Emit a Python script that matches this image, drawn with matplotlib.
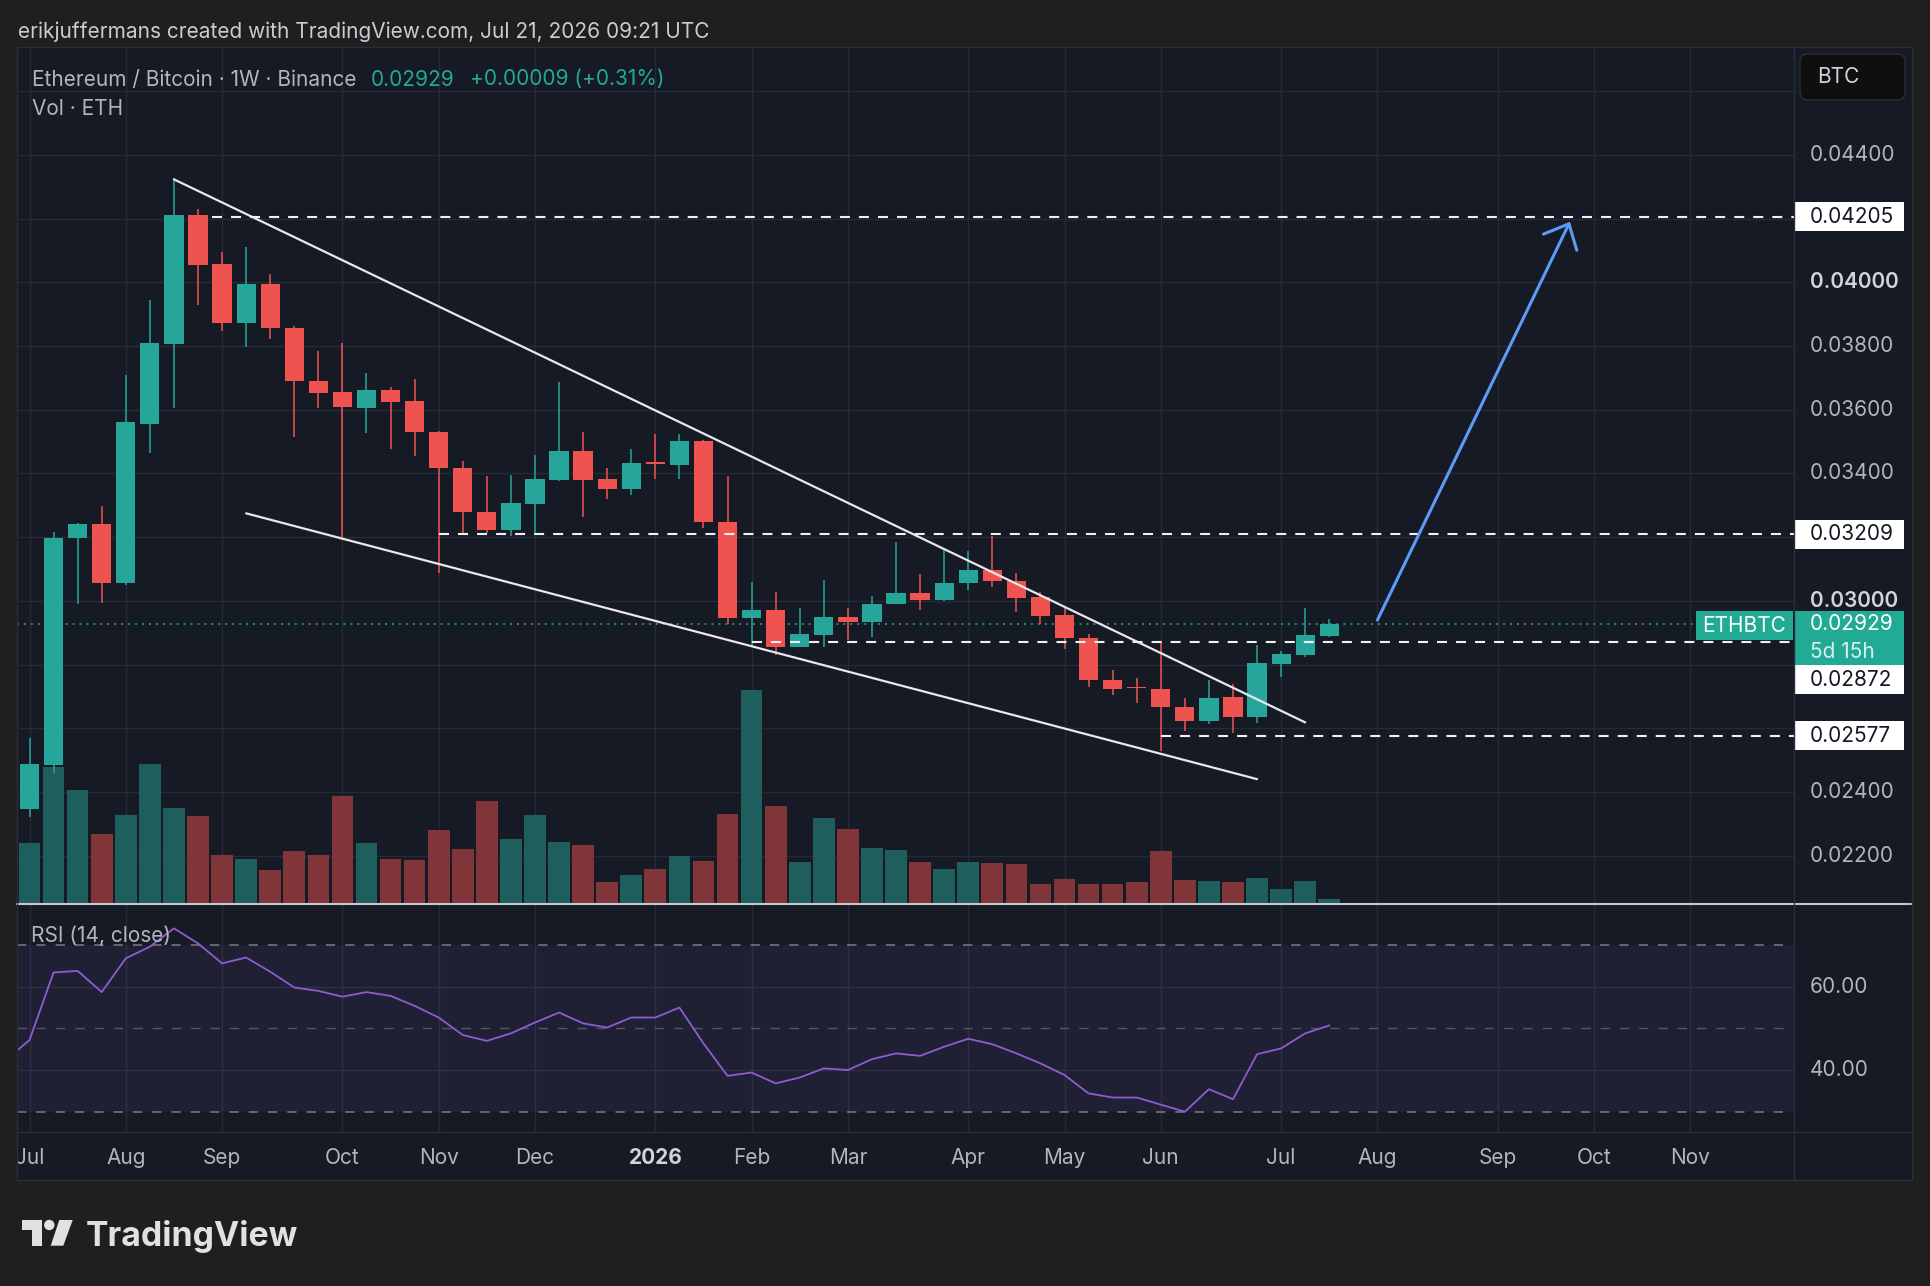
import matplotlib
matplotlib.use("Agg")
import matplotlib.pyplot as plt
import matplotlib.transforms as mtransforms
from matplotlib.patches import Rectangle, FancyBboxPatch, Circle, Polygon
from matplotlib.lines import Line2D
import numpy as np
import pandas as pd

plt.rcParams['font.family'] = ['Inter', 'DejaVu Sans']
plt.rcParams['lines.scale_dashes'] = False

# ETH/BTC weekly candles (Binance), first bar = week of 2025-07-07
open_ = [0.02346, 0.02485, 0.03197, 0.03240, 0.03055, 0.03556, 0.03805, 0.04211, 0.04057, 0.03871,
         0.03994, 0.03855, 0.03690, 0.03655, 0.03607, 0.03663, 0.03627, 0.03531, 0.03418, 0.03280,
         0.03222, 0.03304, 0.03380, 0.03471, 0.03382, 0.03351, 0.03434, 0.03428, 0.03501, 0.03247,
         0.02948, 0.02972, 0.02856, 0.02893, 0.02950, 0.02935, 0.02990, 0.03026, 0.03002, 0.03055,
         0.03097, 0.03064, 0.03012, 0.02955, 0.02885, 0.02751, 0.02729, 0.02723, 0.02668, 0.02624,
         0.02700, 0.02636, 0.02803, 0.02830, 0.02890]
high = [0.02571, 0.03217, 0.03246, 0.03298, 0.03709, 0.03944, 0.04326, 0.04230, 0.04096, 0.04111,
        0.04027, 0.03863, 0.03784, 0.03811, 0.03714, 0.03670, 0.03697, 0.03533, 0.03439, 0.03392,
        0.03395, 0.03458, 0.03686, 0.03529, 0.03416, 0.03478, 0.03523, 0.03525, 0.03506, 0.03392,
        0.03059, 0.03028, 0.02978, 0.03067, 0.02979, 0.03015, 0.03184, 0.03085, 0.03159, 0.03157,
        0.03204, 0.03087, 0.03028, 0.02979, 0.02895, 0.02783, 0.02759, 0.02873, 0.02696, 0.02753,
        0.02740, 0.02862, 0.02844, 0.02979, 0.02945]
low = [0.02321, 0.02461, 0.02991, 0.02993, 0.03050, 0.03465, 0.03607, 0.03929, 0.03848, 0.03798,
       0.03821, 0.03513, 0.03607, 0.03191, 0.03526, 0.03476, 0.03456, 0.03087, 0.03209, 0.03212,
       0.03205, 0.03212, 0.03378, 0.03262, 0.03320, 0.03331, 0.03382, 0.03382, 0.03230, 0.02929,
       0.02857, 0.02829, 0.02855, 0.02856, 0.02876, 0.02888, 0.02989, 0.02973, 0.03001, 0.03036,
       0.03045, 0.02964, 0.02929, 0.02850, 0.02730, 0.02705, 0.02679, 0.02529, 0.02593, 0.02614,
       0.02586, 0.02617, 0.02761, 0.02824, 0.02887]
close = [0.02489, 0.03199, 0.03240, 0.03055, 0.03562, 0.03811, 0.04211, 0.04055, 0.03871, 0.03994,
         0.03855, 0.03690, 0.03654, 0.03610, 0.03663, 0.03625, 0.03529, 0.03416, 0.03280, 0.03222,
         0.03306, 0.03382, 0.03471, 0.03380, 0.03350, 0.03432, 0.03430, 0.03501, 0.03247, 0.02948,
         0.02972, 0.02856, 0.02895, 0.02950, 0.02935, 0.02991, 0.03026, 0.03002, 0.03056, 0.03097,
         0.03062, 0.03010, 0.02953, 0.02883, 0.02751, 0.02724, 0.02726, 0.02667, 0.02624, 0.02696,
         0.02636, 0.02805, 0.02833, 0.02892, 0.02929]
# volume, relative units
volume = [59.7, 135.7, 113.4, 68.7, 87.7, 139.4, 94.7, 87.0, 48.4, 44.0,
          32.7, 51.7, 48.4, 107.4, 59.7, 44.0, 43.0, 72.7, 53.7, 101.7,
          64.0, 87.7, 60.7, 58.0, 21.4, 28.4, 33.7, 46.7, 42.2, 88.7,
          213.4, 96.7, 40.7, 85.4, 73.7, 55.4, 52.7, 41.4, 34.4, 40.7,
          39.7, 38.7, 18.7, 23.7, 18.7, 18.7, 21.4, 51.7, 23.0, 22.0,
          21.4, 24.7, 14.4, 22.4, 3.7]
# RSI(14, close), starts one week before the first candle
rsi = [42.3, 47.2, 63.4, 63.8, 58.7, 66.8, 69.6, 74.0, 70.4, 65.6, 67.0,
       63.6, 59.8, 59.0, 57.6, 58.7, 57.8, 55.4, 52.6, 48.4, 47.0,
       48.8, 51.4, 53.8, 51.2, 50.2, 52.6, 52.6, 55.0, 46.4, 38.6,
       39.4, 36.8, 38.2, 40.4, 40.0, 42.6, 44.0, 43.4, 45.6, 47.5,
       46.2, 44.0, 41.6, 38.8, 34.4, 33.4, 33.4, 31.7, 30.0, 35.4,
       33.0, 43.8, 45.2, 48.8, 50.7]

first_week = pd.Timestamp("2025-07-07")
month_starts = pd.date_range("2025-07-01", "2026-11-01", freq="MS")
month_labels = ["Jul", "Aug", "Sep", "Oct", "Nov", "Dec", "2026", "Feb", "Mar", "Apr",
                "May", "Jun", "Jul", "Aug", "Sep", "Oct", "Nov"]

price_ticks = [0.044, 0.040, 0.038, 0.036, 0.034, 0.030, 0.024, 0.022]
grid_prices = [0.022, 0.024, 0.026, 0.028, 0.030, 0.032, 0.034, 0.036, 0.038, 0.040, 0.042, 0.044, 0.046]
levels = [0.04205, 0.03209, 0.02872, 0.02577]
level_start = [7.6, 17, 30, 47]
last_price = 0.02929
upper_line = ([6, 53], [0.04323, 0.02619])
lower_line = ([9, 51], [0.03275, 0.02441])
arrow_from = (56, 0.02940)
arrow_to = (64, 0.04190)

# colours
OUTER = "#1f1f1f"
BG = "#161a25"
GRID = "#262a36"
BORDER = "#2a2e39"
TXT = "#b2b5be"
BULL = "#26a69a"
BEAR = "#ef5350"
VBULL = "#1e5e5c"
VBEAR = "#803539"
TEAL = "#22ab94"
BLUE = "#5b9cf6"

W, H = 1930, 1286
L, R, RR = 17.3, 1794, 1912
TOP, SEP, RSI_BOT, BOT = 47, 903, 1131.7, 1180

fig = plt.figure(figsize=(W / 100, H / 100), dpi=100, facecolor=OUTER)
pix = mtransforms.Affine2D().scale(1 / W, -1 / H).translate(0, 1) + fig.transFigure


def hide_ticks(a):
    for s in a.spines.values():
        s.set_visible(False)
    a.tick_params(left=False, bottom=False, right=False, top=False, labelleft=False,
                  labelbottom=False, labelright=False, labeltop=False)


def add_ax(x0, y0, x1, y1):
    a = fig.add_axes([x0 / W, 1 - y1 / H, (x1 - x0) / W, (y1 - y0) / H])
    a.set_facecolor(BG)
    hide_ticks(a)
    return a


# bar <-> pixel layout of the screenshot
bar0_px, bar_px = 29.5, 24.07
xmin, xmax = (L - bar0_px) / bar_px, (R - bar0_px) / bar_px
ppp = 31870.0  # pixels per price unit
ymax = 0.044 + (154.8 - TOP) / ppp
ymin = 0.044 - (SEP - 154.8) / ppp

o, h, l, c = map(np.array, (open_, high, low, close))
x = np.arange(len(c))
up = c >= o
col = np.where(up, BULL, BEAR)
vcol = np.where(up, VBULL, VBEAR)

first_mon = [pd.offsets.Week(weekday=0).rollforward(d) for d in month_starts]
month_x = [(d - first_week).days / 7 for d in first_mon]

# ---- price pane ----
ax = add_ax(L, TOP, R, SEP)
ax_vol = ax.twinx()
hide_ticks(ax)
hide_ticks(ax_vol)
ax.set_zorder(2)
ax_vol.set_zorder(1)
ax.patch.set_visible(False)
ax_vol.patch.set_visible(True)
ax_vol.patch.set_facecolor(BG)

ax.set_xlim(xmin, xmax)
ax.set_ylim(ymin, ymax)
ax_vol.set_ylim(0, SEP - TOP)

gtr = mtransforms.blended_transform_factory(ax_vol.transAxes, ax.transData)
for gp in grid_prices:
    ax_vol.plot([0, 1], [gp, gp], color=GRID, lw=1, transform=gtr, zorder=0)
for xm in month_x:
    ax_vol.axvline(xm, color=GRID, lw=1, zorder=0)

ax_vol.bar(x, volume, width=0.9, color=vcol, linewidth=0, zorder=2)

ax.vlines(x, l, h, colors=col, lw=1.1, zorder=3)
body = np.maximum(np.abs(c - o), 0.00005)
ax.bar(x, body, bottom=np.minimum(o, c), width=0.8, color=col, linewidth=0, zorder=4)

# drawings
ax.plot(*upper_line, color="#e6e8ee", lw=1.6, zorder=5, solid_capstyle="round")
ax.plot(*lower_line, color="#e6e8ee", lw=1.6, zorder=5, solid_capstyle="round")
for lv, st in zip(levels, level_start):
    ax.hlines(lv, st, xmax, colors="#f0f0f0", lw=1.5, linestyles=(0, (7.2, 6.5)), zorder=5)
ax.annotate("", xy=arrow_to, xytext=arrow_from,
            arrowprops=dict(arrowstyle="->,head_length=1.47,head_width=1.33", color=BLUE,
                            lw=2.2, shrinkA=0, shrinkB=0, mutation_scale=10), zorder=6)

bx = mtransforms.blended_transform_factory(pix, ax.transData)
fig.add_artist(Line2D([L, 1696], [last_price, last_price], transform=bx, color=TEAL,
                      lw=1.1, linestyle=(0, (1.4, 3.6))))

# legend text
fig.text(18, 32, "erikjuffermans created with TradingView.com, Jul 21, 2026 09:21 UTC",
         transform=pix, color="#c9ccd4", fontsize=15, va="center", ha="left")
fig.text(32, 79.5, "Ethereum / Bitcoin · 1W · Binance", transform=pix, color=TXT,
         fontsize=15, va="center", ha="left", zorder=10)
fig.text(371, 79.5, "0.02929", transform=pix, color=TEAL, fontsize=15, va="center", ha="left", zorder=10)
fig.text(470, 79.5, "+0.00009 (+0.31%)", transform=pix, color=TEAL, fontsize=15,
         va="center", ha="left", zorder=10)
fig.text(32, 109, "Vol · ETH", transform=pix, color=TXT, fontsize=15, va="center", ha="left", zorder=10)

# ---- price axis strip ----
ax_p = add_ax(R, TOP, RR, SEP)
for p in price_ticks:
    bold = p in (0.040, 0.030)
    fig.text(1810, p, f"{p:.5f}", transform=bx, color="#d1d4dc" if bold else TXT,
             fontsize=15, fontweight="semibold" if bold else "normal",
             va="center", ha="left", zorder=10)

cur_top = last_price + 12.6 / ppp
cur_bot = last_price - 41.4 / ppp
fig.add_artist(Rectangle((1795, cur_bot), 109, cur_top - cur_bot, transform=bx,
                         facecolor=TEAL, edgecolor="none", zorder=11))
fig.text(1810, last_price, f"{last_price:.5f}", transform=bx, color="white",
         fontsize=15, va="center", ha="left", zorder=12)
fig.text(1810, last_price - 28 / ppp, "5d 15h", transform=bx, color="#d8f0ec",
         fontsize=15, va="center", ha="left", zorder=12)
fig.add_artist(FancyBboxPatch((1696, cur_top - 29 / ppp), 97, 29 / ppp, transform=bx,
                              boxstyle="round,pad=0,rounding_size=0.00008",
                              facecolor=TEAL, edgecolor="none", zorder=11))
fig.text(1744.5, cur_top - 14.5 / ppp, "ETHBTC", transform=bx, color="white",
         fontsize=15, va="center", ha="center", zorder=12)

half = 14.5 / ppp
for lv in levels:
    cy = lv
    if cy + half > cur_bot and cy - half < cur_top:
        cy = cur_bot - half
    fig.add_artist(Rectangle((1795, cy - half), 109, 2 * half, transform=bx,
                             facecolor="white", edgecolor="none", zorder=11))
    fig.text(1810, cy, f"{lv:.5f}", transform=bx, color="#131722", fontsize=15,
             va="center", ha="left", zorder=12)

# BTC currency button
fig.add_artist(FancyBboxPatch((1800, 54), 105, 46, transform=pix,
                              boxstyle="round,pad=0,rounding_size=8",
                              facecolor="#0f0f0f", edgecolor="#2e2e2e", lw=1, zorder=11))
fig.text(1817, 77, "BTC", transform=pix, color="#d1d4dc", fontsize=15,
         va="center", ha="left", zorder=12)

# ---- RSI pane ----
rsi_top = 60 + (986.7 - (SEP + 2)) / 4.167
rsi_bot = 60 - (RSI_BOT - 986.7) / 4.167
ax_r = add_ax(L, SEP + 2, R, RSI_BOT)
ax_r.set_xlim(xmin, xmax)
ax_r.set_ylim(rsi_bot, rsi_top)
for xm in month_x:
    ax_r.axvline(xm, color=GRID, lw=1, zorder=0)
for gv in (40, 60):
    ax_r.axhline(gv, color=GRID, lw=1, zorder=0)
ax_r.axhspan(30, 70, color="#7e57c2", alpha=0.1, lw=0, zorder=1)
for lv in (70, 30):
    ax_r.axhline(lv, color="#787b86", lw=1.1, linestyle=(0, (6.7, 7.2)), zorder=2, xmax=0.994)
ax_r.axhline(50, color="#787b86", lw=1.0, alpha=0.6, linestyle=(0, (6.7, 7.2)), zorder=2, xmax=0.994)
ax_r.plot(np.arange(-1, len(rsi) - 1), rsi, color="#8e5cd0", lw=1.3, zorder=3)
fig.text(31, 936, "RSI (14, close)", transform=pix, color=TXT, fontsize=15,
         va="center", ha="left", zorder=10)

ax_rp = add_ax(R, SEP + 2, RR, RSI_BOT)
rbx = mtransforms.blended_transform_factory(pix, ax_r.transData)
for rv in (60, 40):
    fig.text(1810, rv, f"{rv:.2f}", transform=rbx, color=TXT, fontsize=15,
             va="center", ha="left", zorder=10)

# ---- time axis ----
ax_t = add_ax(L, RSI_BOT, R, BOT)
ax_t.set_xlim(xmin, xmax)
ax_t.set_ylim(0, 1)
for lab, xm in zip(month_labels, month_x):
    yr = lab.isdigit()
    ax_t.text(xm, 0.45, lab, ha="center", va="center", fontsize=15,
              color="#d1d4dc" if yr else TXT, fontweight="bold" if yr else "normal",
              clip_on=True)
ax_tc = add_ax(R, RSI_BOT, RR, BOT)

# separators and frame
fig.add_artist(Line2D([L, RR], [SEP + 1, SEP + 1], transform=pix, color="#c5c8cf", lw=1.5, zorder=20))
fig.add_artist(Line2D([R, R], [TOP, BOT], transform=pix, color=BORDER, lw=1, zorder=20))
fig.add_artist(Line2D([L, RR], [RSI_BOT, RSI_BOT], transform=pix, color=BORDER, lw=1, zorder=20))
fig.add_artist(Rectangle((L, TOP), RR - L, BOT - TOP, transform=pix, fill=False,
                         edgecolor=BORDER, lw=1, zorder=20))

# TradingView logo
LOGO = "#e1e1e1"
fig.add_artist(Rectangle((21.7, 1220), 20, 10, transform=pix, facecolor=LOGO, edgecolor="none"))
fig.add_artist(Rectangle((31.7, 1220), 10, 25.7, transform=pix, facecolor=LOGO, edgecolor="none"))
fig.add_artist(Circle((49.3, 1225), 5.2, transform=pix, facecolor=LOGO, edgecolor="none"))
fig.add_artist(Polygon([(59.3, 1220), (72.7, 1220), (63.3, 1245.7), (50.7, 1245.7)],
                       transform=pix, facecolor=LOGO, edgecolor="none"))
fig.text(86, 1245.7, "TradingView", transform=pix, color=LOGO, fontsize=24.3,
         fontweight="bold", va="baseline", ha="left")

fig.savefig("out.png", dpi=100, facecolor=OUTER)
